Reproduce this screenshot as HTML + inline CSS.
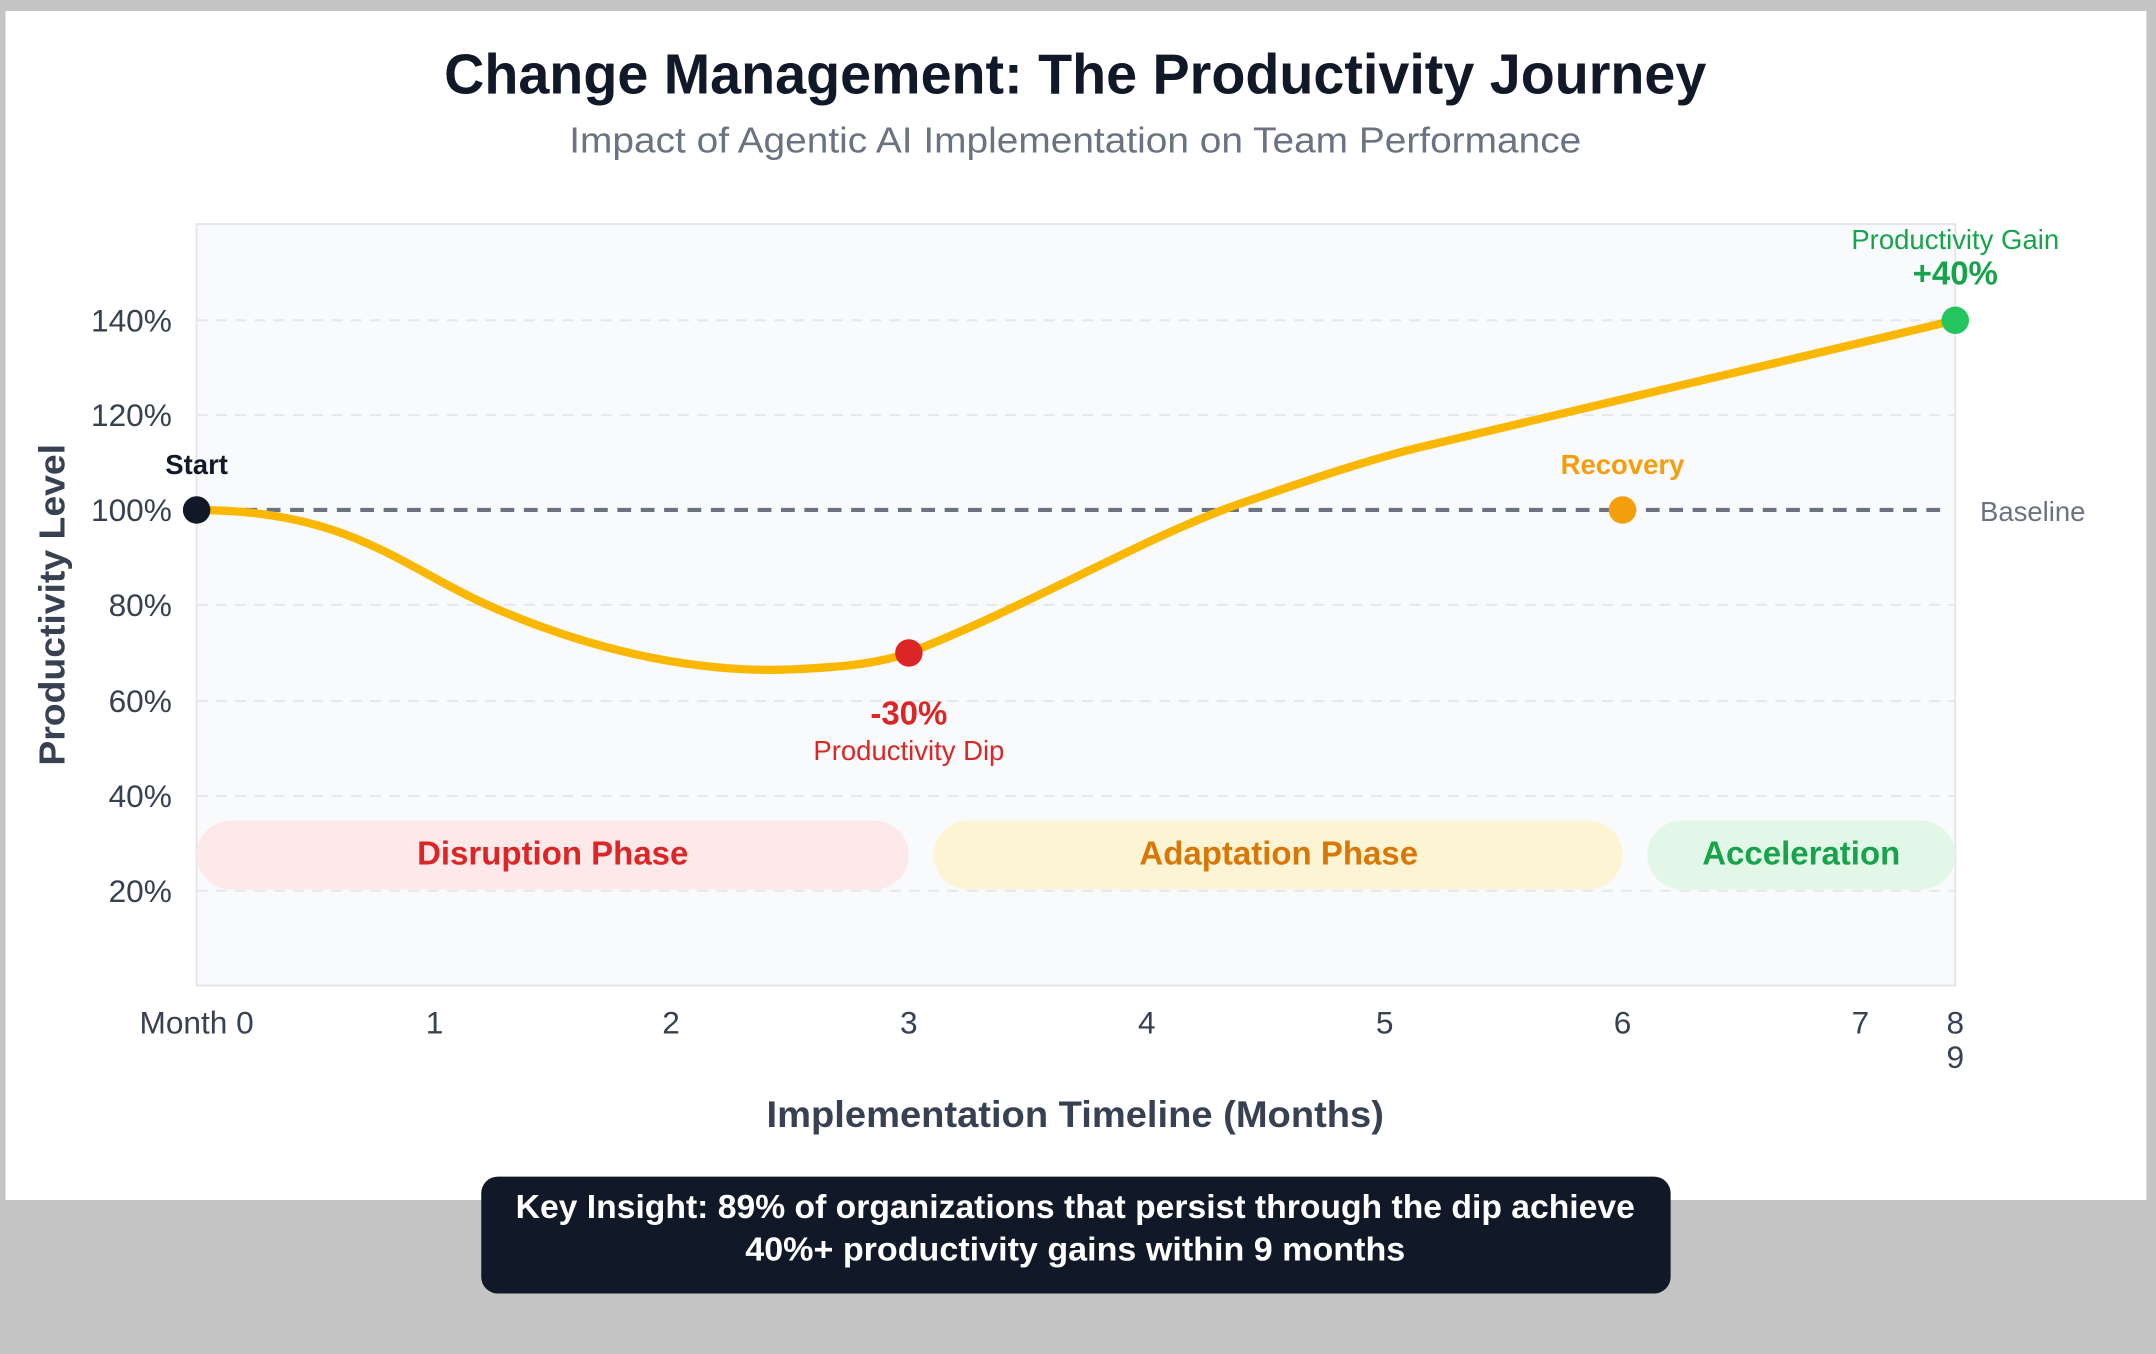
<!DOCTYPE html>
<html><head><style>html,body{margin:0;padding:0;background:#c4c4c4;}svg{display:block}</style></head>
<body>
<svg width="2156" height="1354" viewBox="0 0 1568 985" preserveAspectRatio="none" xmlns="http://www.w3.org/2000/svg" font-family="Liberation Sans, DejaVu Sans, sans-serif">
<rect x="0" y="0" width="1568" height="985" fill="#c4c4c4"/>
<rect x="4" y="8" width="1557" height="865" fill="#ffffff"/>
<text x="782" y="68" text-anchor="middle" font-size="41" font-weight="bold" fill="#111827" textLength="918" lengthAdjust="spacingAndGlyphs">Change Management: The Productivity Journey</text>
<text x="782" y="111" text-anchor="middle" font-size="26" fill="#6b7280" textLength="736" lengthAdjust="spacingAndGlyphs">Impact of Agentic AI Implementation on Team Performance</text>
<rect x="143" y="163" width="1279" height="554" fill="#f8fafc" stroke="#e5e7eb" stroke-width="1.5"/>
<g stroke="#e5e7eb" stroke-width="1.5" stroke-dasharray="8 6">
<line x1="143" y1="233" x2="1422" y2="233"/><line x1="143" y1="302" x2="1422" y2="302"/>
<line x1="143" y1="440" x2="1422" y2="440"/><line x1="143" y1="510" x2="1422" y2="510"/>
<line x1="143" y1="579" x2="1422" y2="579"/><line x1="143" y1="648" x2="1422" y2="648"/>
</g>
<g font-size="23" fill="#374151" text-anchor="end">
<text x="125" y="241">140%</text><text x="125" y="310">120%</text><text x="125" y="379">100%</text>
<text x="125" y="448">80%</text><text x="125" y="518">60%</text><text x="125" y="587">40%</text><text x="125" y="656">20%</text>
</g>
<text transform="translate(47,440) rotate(-90)" text-anchor="middle" font-size="26" font-weight="bold" fill="#374151" textLength="234" lengthAdjust="spacingAndGlyphs">Productivity Level</text>
<g font-size="23" fill="#374151" text-anchor="middle">
<text x="143" y="752">Month 0</text><text x="316" y="752">1</text><text x="488" y="752">2</text><text x="661" y="752">3</text>
<text x="834" y="752">4</text><text x="1007" y="752">5</text><text x="1180" y="752">6</text><text x="1353" y="752">7</text>
<text x="1422" y="752">8</text><text x="1422" y="777">9</text>
</g>
<text x="782" y="820" text-anchor="middle" font-size="27" font-weight="bold" fill="#374151" textLength="449" lengthAdjust="spacingAndGlyphs">Implementation Timeline (Months)</text>
<rect x="143" y="597" width="518" height="50" rx="25" fill="#fde8ea"/>
<rect x="679" y="597" width="501" height="50" rx="25" fill="#fdf4d3"/>
<rect x="1198" y="597" width="224" height="50" rx="25" fill="#e3f7e9"/>
<g font-size="24" font-weight="bold" text-anchor="middle">
<text x="402" y="629" fill="#dc2626">Disruption Phase</text>
<text x="930" y="629" fill="#d97706">Adaptation Phase</text>
<text x="1310" y="629" fill="#16a34a">Acceleration</text>
</g>
<line x1="143" y1="371" x2="1418" y2="371" stroke="#6b7280" stroke-width="3" stroke-dasharray="10 7"/>
<text x="1440" y="379" font-size="20" fill="#6b7280">Baseline</text>
<path d="M143,371 C250,371 290,410 350,438 C420,470 500,490 575,487 C620,485 640,482 661,475 C750,440 830,392 900,367 C950,350 990,336 1030,326 L1422,233" fill="none" stroke="#f9b700" stroke-width="6" stroke-linecap="round"/>
<circle cx="143" cy="371" r="10" fill="#111827"/>
<circle cx="661" cy="475" r="10" fill="#dc2626"/>
<circle cx="1180" cy="371" r="10" fill="#f59e0b"/>
<circle cx="1422" cy="233" r="10" fill="#22c55e"/>
<text x="143" y="345" text-anchor="middle" font-size="20" font-weight="bold" fill="#111827">Start</text>
<text x="661" y="527" text-anchor="middle" font-size="24" font-weight="bold" fill="#dc2626">-30%</text>
<text x="661" y="553" text-anchor="middle" font-size="20" fill="#dc2626">Productivity Dip</text>
<text x="1180" y="345" text-anchor="middle" font-size="20" font-weight="bold" fill="#f59e0b">Recovery</text>
<text x="1422" y="181" text-anchor="middle" font-size="20" fill="#16a34a">Productivity Gain</text>
<text x="1422" y="207" text-anchor="middle" font-size="24" font-weight="bold" fill="#16a34a">+40%</text>
<rect x="350" y="856" width="865" height="85" rx="12" fill="#111827"/>
<text x="782" y="886" text-anchor="middle" font-size="24" font-weight="bold" fill="#ffffff" textLength="814" lengthAdjust="spacingAndGlyphs">Key Insight: 89% of organizations that persist through the dip achieve</text>
<text x="782" y="917" text-anchor="middle" font-size="24" font-weight="bold" fill="#ffffff" textLength="480" lengthAdjust="spacingAndGlyphs">40%+ productivity gains within 9 months</text>
</svg>
</body></html>
